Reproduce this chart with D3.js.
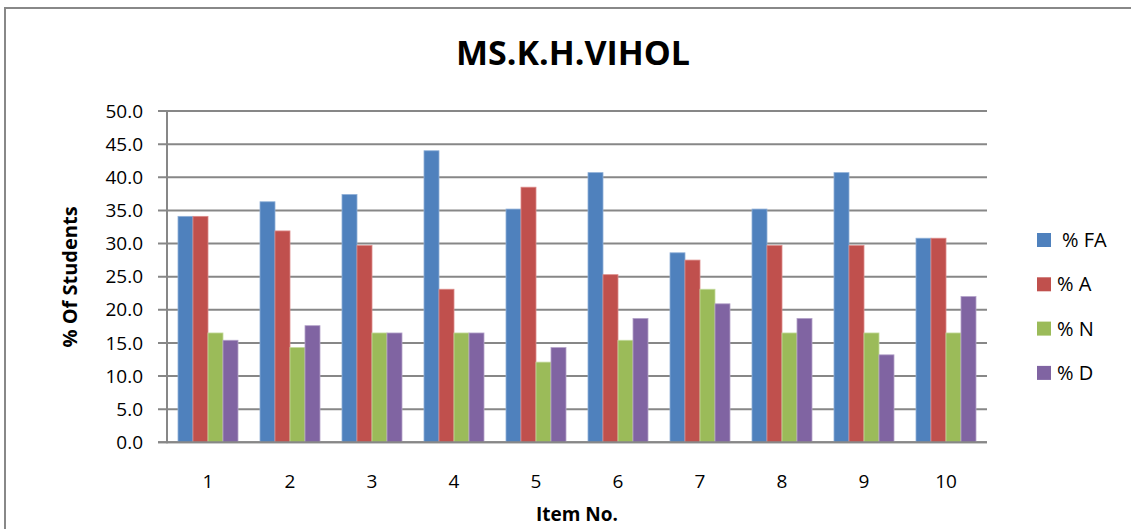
<!DOCTYPE html>
<html><head><meta charset="utf-8">
<script src="https://cdn.jsdelivr.net/npm/d3@7"></script>
<style>body{margin:0;background:#fff;}svg{display:block;font-family:"Open Sans","Liberation Sans",sans-serif;}</style>
</head><body>
<svg id="c" width="1131" height="529"></svg>
<script>
const categories = ["1","2","3","4","5","6","7","8","9","10"];
const seriesNames = ["% FA","% A","% N","% D"];
const FA = [34.1,36.3,37.4,44.0,35.2,40.7,28.6,35.2,40.7,30.8];
const A  = [34.1,31.9,29.7,23.1,38.5,25.3,27.5,29.7,29.7,30.8];
const N  = [16.5,14.3,16.5,16.5,12.1,15.4,23.1,16.5,16.5,16.5];
const D  = [15.4,17.6,16.5,16.5,14.3,18.7,20.9,18.7,13.2,22.0];
const yTicks = [0,5,10,15,20,25,30,35,40,45,50];
const colors = ["#4F81BD","#C0504D","#9BBB59","#8064A2"];
const strokes = ["#8fb0d8","#dc8b89","#c3d99b","#b3a2c9"];
const series = [FA,A,N,D];

const svg = d3.select("#c");
svg.append("rect").attr("x",5).attr("y",8).attr("width",1140).attr("height",540)
  .attr("fill","none").attr("stroke","#888").attr("stroke-width",2);

const L=167, R=987, T=111, B=442.3;
const x0 = d3.scaleBand().domain(categories).range([L,R]).paddingInner(22/82).paddingOuter(11/82);
const x1 = d3.scaleBand().domain(seriesNames).range([0,x0.bandwidth()]);
const y = d3.scaleLinear().domain([0,50]).range([B,T]);

svg.append("g").selectAll("line").data(yTicks).join("line")
  .attr("x1",L-9).attr("x2",R).attr("y1",d=>y(d)).attr("y2",d=>y(d))
  .attr("stroke","#878787").attr("stroke-width",2);

const yAxis = d3.axisLeft(y).tickValues(yTicks).tickFormat(d3.format(".1f")).tickSize(0).tickPadding(24);
const yg = svg.append("g").attr("transform",`translate(${L},0)`).call(yAxis);
yg.select(".domain").remove();
yg.selectAll("text").attr("font-size",19).attr("fill","#000").attr("font-family","Open Sans, sans-serif");

const groups = svg.append("g").selectAll("g").data(categories).join("g")
  .attr("transform",d=>`translate(${x0(d)},0)`);
groups.selectAll("rect").data((c,i)=>series.map((s,k)=>({k,v:s[i]}))).join("rect")
  .attr("x",d=>x1(seriesNames[d.k])).attr("width",x1.bandwidth())
  .attr("y",d=>y(d.v)).attr("height",d=>B-y(d.v))
  .attr("fill",d=>colors[d.k]).attr("stroke",d=>strokes[d.k]).attr("stroke-width",0.8);

svg.append("line").attr("x1",L).attr("x2",L).attr("y1",T).attr("y2",B+1).attr("stroke","#878787").attr("stroke-width",2);
svg.append("line").attr("x1",L-9).attr("x2",R).attr("y1",B).attr("y2",B).attr("stroke","#878787").attr("stroke-width",2);

const xAxis = d3.axisBottom(x0).tickSize(0).tickPadding(32);
const xg = svg.append("g").attr("transform",`translate(0,${B})`).call(xAxis);
xg.select(".domain").remove();
xg.selectAll("text").attr("font-size",19).attr("fill","#000").attr("font-family","Open Sans, sans-serif");

svg.append("text").attr("x",573).attr("y",65).attr("text-anchor","middle")
  .attr("font-size",34).attr("font-weight","bold").text("MS.K.H.VIHOL");
svg.append("text").attr("x",577).attr("y",521).attr("text-anchor","middle")
  .attr("font-size",19).attr("font-weight","bold").text("Item No.");
svg.append("text").attr("transform","translate(77,277) rotate(-90)").attr("text-anchor","middle")
  .attr("font-size",20).attr("font-weight","bold").text("% Of Students");

const lg = svg.append("g").selectAll("g").data(seriesNames).join("g")
  .attr("transform",(d,i)=>`translate(1037,${233+i*44.3})`);
lg.append("rect").attr("width",14).attr("height",14).attr("fill",(d,i)=>colors[i]);
lg.append("text").attr("x",(d,i)=>i===0?25:20).attr("y",14).attr("font-size",20).text(d=>d);
</script>
</body></html>
